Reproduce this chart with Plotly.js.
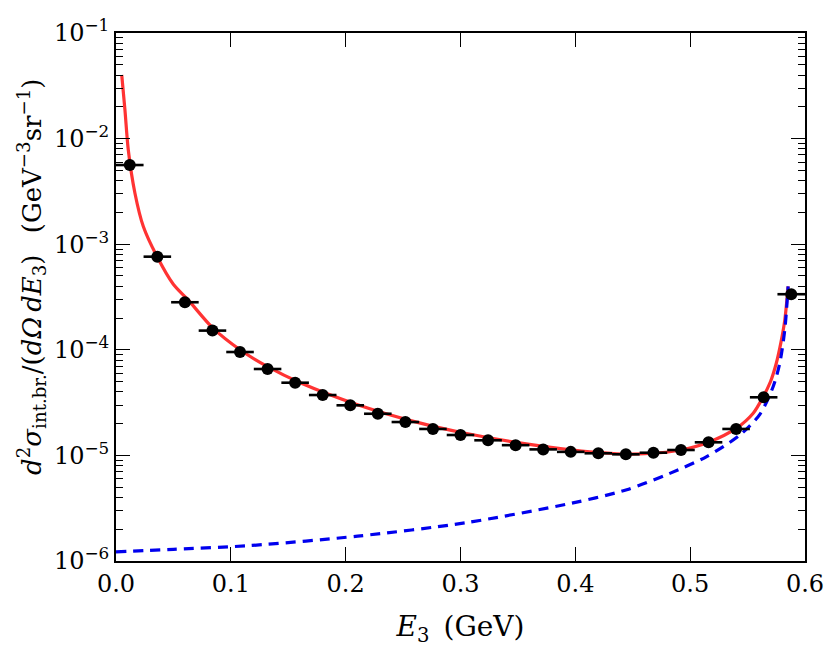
<!DOCTYPE html>
<html>
<head>
<meta charset="utf-8">
<script src="https://cdn.plot.ly/plotly-3.0.1.min.js"></script>
<style>
  html, body { margin: 0; padding: 0; background: #fff; }
  #data { width: 830px; height: 653px; }
</style>
</head>
<body>
<div id="data"></div>
<script>
// measured bins (bin centres, GeV) and cross section values
var binCentres = [0.012, 0.036, 0.060, 0.084, 0.108, 0.132, 0.156, 0.180, 0.204,
  0.228, 0.252, 0.276, 0.300, 0.324, 0.348, 0.372, 0.396,
  0.420, 0.444, 0.468, 0.492, 0.516, 0.540, 0.564, 0.588];
var binValues = [5.62e-3, 7.62e-4, 2.82e-4, 1.52e-4, 9.53e-5, 6.58e-5, 4.88e-5, 3.73e-5, 2.98e-5,
  2.48e-5, 2.07e-5, 1.78e-5, 1.56e-5, 1.39e-5, 1.25e-5, 1.14e-5, 1.08e-5,
  1.047e-5, 1.024e-5, 1.06e-5, 1.125e-5, 1.33e-5, 1.78e-5, 3.55e-5, 3.36e-4];
var binHalfWidth = [0.012, 0.012, 0.012, 0.012, 0.012, 0.012, 0.012, 0.012, 0.012,
  0.012, 0.012, 0.012, 0.012, 0.012, 0.012, 0.012, 0.012,
  0.012, 0.012, 0.012, 0.012, 0.012, 0.012, 0.012, 0.012];

// full calculation (red solid)
var totalE = [0.0050, 0.0078, 0.0107, 0.0165, 0.0238, 0.0354, 0.0499, 0.063, 0.084,
  0.108, 0.132, 0.160, 0.2104, 0.260, 0.3042, 0.350, 0.398, 0.4448, 0.4736, 0.4916,
  0.5173, 0.540, 0.5549, 0.5636, 0.5700, 0.5750, 0.5790, 0.5824, 0.5853];
var totalValues = [4.0e-2, 1.86e-2, 7.8e-3, 3.04e-3, 1.47e-3, 7.76e-4, 4.17e-4, 2.95e-4, 1.62e-4,
  1.0e-4, 6.92e-5, 4.9e-5, 3.02e-5, 2.09e-5, 1.62e-5, 1.32e-5, 1.125e-5, 1.03e-5, 1.06e-5, 1.125e-5,
  1.35e-5, 1.80e-5, 2.51e-5, 3.59e-5, 5.01e-5, 7.46e-5, 1.17e-4, 1.91e-4, 3.98e-4];

// second contribution (blue dashed)
var partE = [0.000, 0.050, 0.1167, 0.2104, 0.3042, 0.398, 0.4448, 0.4823, 0.514,
  0.543, 0.5607, 0.5723, 0.578, 0.5824, 0.5853];
var partValues = [1.22e-6, 1.29e-6, 1.40e-6, 1.72e-6, 2.30e-6, 3.55e-6, 4.73e-6, 6.76e-6, 9.7e-6,
  1.55e-5, 2.45e-5, 4.49e-5, 7.46e-5, 1.55e-4, 3.98e-4];

var xTicks = [0, 0.1, 0.2, 0.3, 0.4, 0.5, 0.6];
var xTickText = ['0.0', '0.1', '0.2', '0.3', '0.4', '0.5', '0.6'];
var yTicks = [1e-6, 1e-5, 1e-4, 1e-3, 1e-2, 1e-1];
var yTickText = ['10<sup>\u22126</sup>', '10<sup>\u22125</sup>', '10<sup>\u22124</sup>',
  '10<sup>\u22123</sup>', '10<sup>\u22122</sup>', '10<sup>\u22121</sup>'];
var yTitle = '<i>d</i><sup>2</sup><i>\u03c3</i><sub>int.br.</sub>/(<i>d\u03a9\u2009dE</i><sub>3</sub>)\u2002 (GeV<sup>\u22123</sup>sr<sup>\u22121</sup>)';
var xTitle = '<i>E</i><sub>3</sub>\u2002(GeV)';

var minorY = [];
for (var d = -6; d < -1; d++) {
  for (var m = 2; m < 10; m++) {
    minorY.push(m * Math.pow(10, d));
  }
}

var serif = 'DejaVu Serif';

var traces = [
  {
    x: totalE,
    y: totalValues,
    type: 'scatter',
    mode: 'lines',
    line: { color: '#ff3333', width: 3.2, shape: 'spline', smoothing: 0.8 },
    hoverinfo: 'skip'
  },
  {
    x: partE,
    y: partValues,
    type: 'scatter',
    mode: 'lines',
    line: { color: '#0000ee', width: 3.2, dash: '10px,7px', shape: 'spline', smoothing: 0.8 },
    hoverinfo: 'skip'
  },
  {
    x: binCentres,
    y: binValues,
    type: 'scatter',
    mode: 'markers',
    marker: { color: '#000', size: 12 },
    error_x: { type: 'data', array: binHalfWidth, color: '#000', thickness: 2.6, width: 0 }
  }
];

var layout = {
  width: 830,
  height: 653,
  showlegend: false,
  margin: { l: 116, r: 25, t: 33, b: 92, pad: 0 },
  paper_bgcolor: '#fff',
  plot_bgcolor: '#fff',
  font: { family: serif, color: '#000', size: 24 },
  xaxis: {
    range: [0, 0.6],
    tickvals: xTicks,
    ticktext: xTickText,
    ticks: 'inside',
    ticklen: 14,
    tickwidth: 1.3,
    tickcolor: '#000',
    showgrid: false,
    zeroline: false,
    showline: true,
    linecolor: '#000',
    linewidth: 2,
    mirror: 'ticks',
    tickfont: { family: serif, size: 24 },
    title: { text: xTitle, font: { family: serif, size: 28 }, standoff: 20 }
  },
  yaxis: {
    type: 'log',
    range: [-6, -1],
    tickvals: yTicks,
    ticktext: yTickText,
    ticks: 'inside',
    ticklen: 14,
    tickwidth: 1.3,
    tickcolor: '#000',
    showgrid: false,
    zeroline: false,
    showline: true,
    linecolor: '#000',
    linewidth: 2,
    mirror: 'ticks',
    tickfont: { family: serif, size: 24 },
    minor: { tickvals: minorY, ticks: 'inside', ticklen: 7, tickwidth: 1, tickcolor: '#000', showgrid: false }
  },
  annotations: [
    {
      text: yTitle,
      xref: 'paper',
      yref: 'paper',
      x: -0.122,
      y: 0.538,
      xanchor: 'center',
      yanchor: 'middle',
      textangle: -90,
      showarrow: false,
      font: { family: serif, size: 26, color: '#000' }
    }
  ]
};

var config = { displayModeBar: false, staticPlot: true };

Plotly.newPlot('data', traces, layout, config);
</script>
</body>
</html>
